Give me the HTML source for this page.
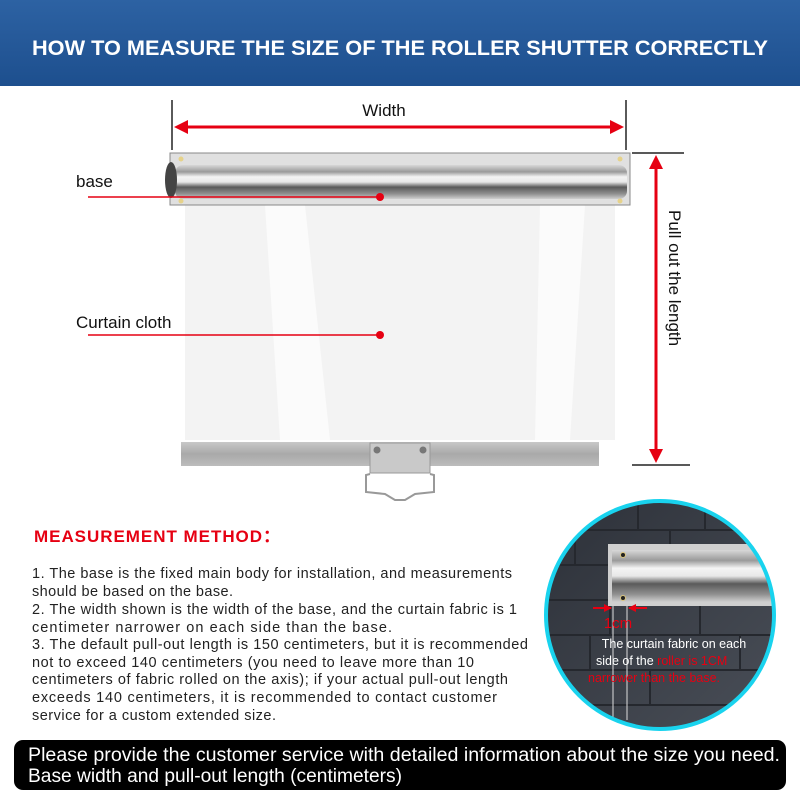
<!DOCTYPE html>
<html><head><meta charset="utf-8"><style>
body{margin:0;width:800px;height:800px;overflow:hidden;background:#fff;font-family:"Liberation Sans",Arial,sans-serif}
</style></head><body>
<svg width="800" height="800" viewBox="0 0 800 800" xmlns="http://www.w3.org/2000/svg" font-family="Liberation Sans, Arial, sans-serif">
<defs>
<linearGradient id="hd" x1="0" y1="0" x2="0" y2="1"><stop offset="0" stop-color="#2d62a3"/><stop offset="1" stop-color="#1d4f8e"/></linearGradient>
<linearGradient id="tube" x1="0" y1="0" x2="0" y2="1"><stop offset="0" stop-color="#d8d8d8"/><stop offset="0.2" stop-color="#9a9a9a"/><stop offset="0.35" stop-color="#f4f4f4"/><stop offset="0.5" stop-color="#e8e8e8"/><stop offset="0.65" stop-color="#5a5a5a"/><stop offset="0.85" stop-color="#909090"/><stop offset="1" stop-color="#cfcfcf"/></linearGradient>
<linearGradient id="bar" x1="0" y1="0" x2="0" y2="1"><stop offset="0" stop-color="#c8c8c8"/><stop offset="0.5" stop-color="#a9a9a9"/><stop offset="1" stop-color="#bcbcbc"/></linearGradient>
<linearGradient id="wall" x1="0" y1="0" x2="1" y2="1"><stop offset="0" stop-color="#2c3038"/><stop offset="1" stop-color="#4a4f58"/></linearGradient>
<clipPath id="cc"><circle cx="660" cy="615" r="113"/></clipPath>
</defs>
<rect x="0" y="0" width="800" height="86" fill="url(#hd)"/>
<text x="32" y="55" textLength="736" lengthAdjust="spacingAndGlyphs" fill="#fff" font-size="21" font-weight="bold">HOW TO MEASURE THE SIZE OF THE ROLLER SHUTTER CORRECTLY</text>

<rect x="185" y="205" width="430" height="235" fill="#f3f3f3"/>
<polygon points="265,205 305,205 330,440 280,440" fill="#fbfbfb"/>
<polygon points="540,205 585,205 570,440 535,440" fill="#fbfbfb"/>
<rect x="170" y="153" width="460" height="52" fill="#e0e0e0" stroke="#888" stroke-width="1"/>
<rect x="175" y="165" width="452" height="34" rx="8" fill="url(#tube)"/>
<ellipse cx="171" cy="180" rx="6" ry="18" fill="#444"/>
<circle cx="181" cy="159" r="2.5" fill="#e6d28a"/><circle cx="620" cy="159" r="2.5" fill="#e6d28a"/>
<circle cx="181" cy="201" r="2.5" fill="#e6d28a"/><circle cx="620" cy="201" r="2.5" fill="#e6d28a"/>
<rect x="181" y="442" width="418" height="24" fill="url(#bar)"/>
<rect x="370" y="443" width="60" height="30" fill="#c9c9c9" stroke="#999"/>
<circle cx="377" cy="450" r="3.5" fill="#777"/><circle cx="423" cy="450" r="3.5" fill="#777"/>
<path d="M370,474 L366,475 L366,492 L385,494 L395,500 L405,500 L415,494 L434,492 L434,475 L430,474" fill="none" stroke="#999" stroke-width="2"/>

<line x1="172" y1="100" x2="172" y2="150" stroke="#222" stroke-width="1.5"/>
<line x1="626" y1="100" x2="626" y2="150" stroke="#222" stroke-width="1.5"/>
<line x1="180" y1="127" x2="618" y2="127" stroke="#e60012" stroke-width="3"/>
<polygon points="174,127 188,120 188,134" fill="#e60012"/><polygon points="624,127 610,120 610,134" fill="#e60012"/>
<text x="384" y="116" text-anchor="middle" font-size="17" fill="#111">Width</text>
<line x1="632" y1="153" x2="684" y2="153" stroke="#222" stroke-width="1.5"/>
<line x1="632" y1="465" x2="690" y2="465" stroke="#222" stroke-width="1.5"/>
<line x1="656" y1="162" x2="656" y2="458" stroke="#e60012" stroke-width="3"/>
<polygon points="656,155 649,169 663,169" fill="#e60012"/><polygon points="656,463 649,449 663,449" fill="#e60012"/>
<text transform="translate(669,210) rotate(90)" font-size="17" fill="#111">Pull out the length</text>

<text x="76" y="187" font-size="17" fill="#111">base</text>
<line x1="88" y1="197" x2="380" y2="197" stroke="#e60012" stroke-width="1.5"/><circle cx="380" cy="197" r="4" fill="#e60012"/>
<text x="76" y="328" font-size="17" fill="#111">Curtain cloth</text>
<line x1="88" y1="335" x2="380" y2="335" stroke="#e60012" stroke-width="1.5"/><circle cx="380" cy="335" r="4" fill="#e60012"/>

<text x="34" y="542" font-size="17" font-weight="bold" fill="#e60012" textLength="246" lengthAdjust="spacing">MEASUREMENT  METHOD：</text>
<g font-size="14.5" fill="#222" lengthAdjust="spacingAndGlyphs">
<text x="32" y="578" textLength="480">1. The base is the fixed main body for installation, and measurements</text>
<text x="32" y="596" textLength="201">should be based on the base.</text>
<text x="32" y="614" textLength="485">2. The width shown is the width of the base, and the curtain fabric is 1</text>
<text x="32" y="632" textLength="360">centimeter narrower on each side than the base.</text>
<text x="32" y="649" textLength="496">3. The default pull-out length is 150 centimeters, but it is recommended</text>
<text x="32" y="667" textLength="442">not to exceed 140 centimeters (you need to leave more than 10</text>
<text x="32" y="684" textLength="476">centimeters of fabric rolled on the axis); if your actual pull-out length</text>
<text x="32" y="702" textLength="465">exceeds 140 centimeters, it is recommended to contact customer</text>
<text x="32" y="720" textLength="244">service for a custom extended size.</text>
</g>

<g clip-path="url(#cc)">
<rect x="540" y="495" width="240" height="240" fill="url(#wall)"/>
<g stroke="#25282e" stroke-width="2" fill="none">
<line x1="540" y1="530" x2="780" y2="530"/><line x1="540" y1="565" x2="780" y2="565"/><line x1="540" y1="600" x2="780" y2="600"/><line x1="540" y1="635" x2="780" y2="635"/><line x1="540" y1="670" x2="780" y2="670"/><line x1="540" y1="705" x2="780" y2="705"/>
<line x1="638" y1="500" x2="638" y2="530"/><line x1="705" y1="500" x2="705" y2="530"/><line x1="575" y1="530" x2="575" y2="565"/><line x1="670" y1="530" x2="670" y2="565"/><line x1="610" y1="600" x2="610" y2="635"/><line x1="700" y1="600" x2="700" y2="635"/><line x1="650" y1="670" x2="650" y2="705"/><line x1="590" y1="635" x2="590" y2="670"/><line x1="740" y1="635" x2="740" y2="670"/>
</g>
<rect x="608" y="544" width="175" height="62" fill="#cfcfcf"/>
<rect x="612" y="550" width="170" height="52" fill="url(#tube)"/>
<circle cx="623" cy="555" r="2.5" fill="#222" stroke="#d9c37a"/><circle cx="623" cy="598" r="2.5" fill="#222" stroke="#d9c37a"/>
<line x1="613" y1="606" x2="613" y2="720" stroke="#ddd"/><line x1="627" y1="606" x2="627" y2="720" stroke="#ddd"/>
</g>
<circle cx="660" cy="615" r="114" fill="none" stroke="#19d3ee" stroke-width="4"/>
<line x1="593" y1="608" x2="611" y2="608" stroke="#e60012" stroke-width="2"/><polygon points="612,608 604,604 604,612" fill="#e60012"/>
<line x1="629" y1="608" x2="647" y2="608" stroke="#e60012" stroke-width="2"/><polygon points="628,608 636,604 636,612" fill="#e60012"/>
<text x="618" y="628" text-anchor="middle" font-size="15" fill="#e60012">1cm</text>
<text x="674" y="648" text-anchor="middle" font-size="12.5" fill="#fff">The curtain fabric on each</text>
<text x="596" y="665" font-size="12.5" fill="#fff">side of the <tspan fill="#e60012">roller is 1CM</tspan></text>
<text x="588" y="682" font-size="12.5" fill="#e60012">narrower than the base.</text>

<rect x="14" y="740" width="772" height="50" rx="9" fill="#000"/>
<text x="28" y="761" font-size="19" fill="#fff" textLength="752" lengthAdjust="spacingAndGlyphs">Please provide the customer service with detailed information about the size you need.</text>
<text x="28" y="782" font-size="19" fill="#fff" textLength="374" lengthAdjust="spacingAndGlyphs">Base width and pull-out length (centimeters)</text>
</svg>
</body></html>
